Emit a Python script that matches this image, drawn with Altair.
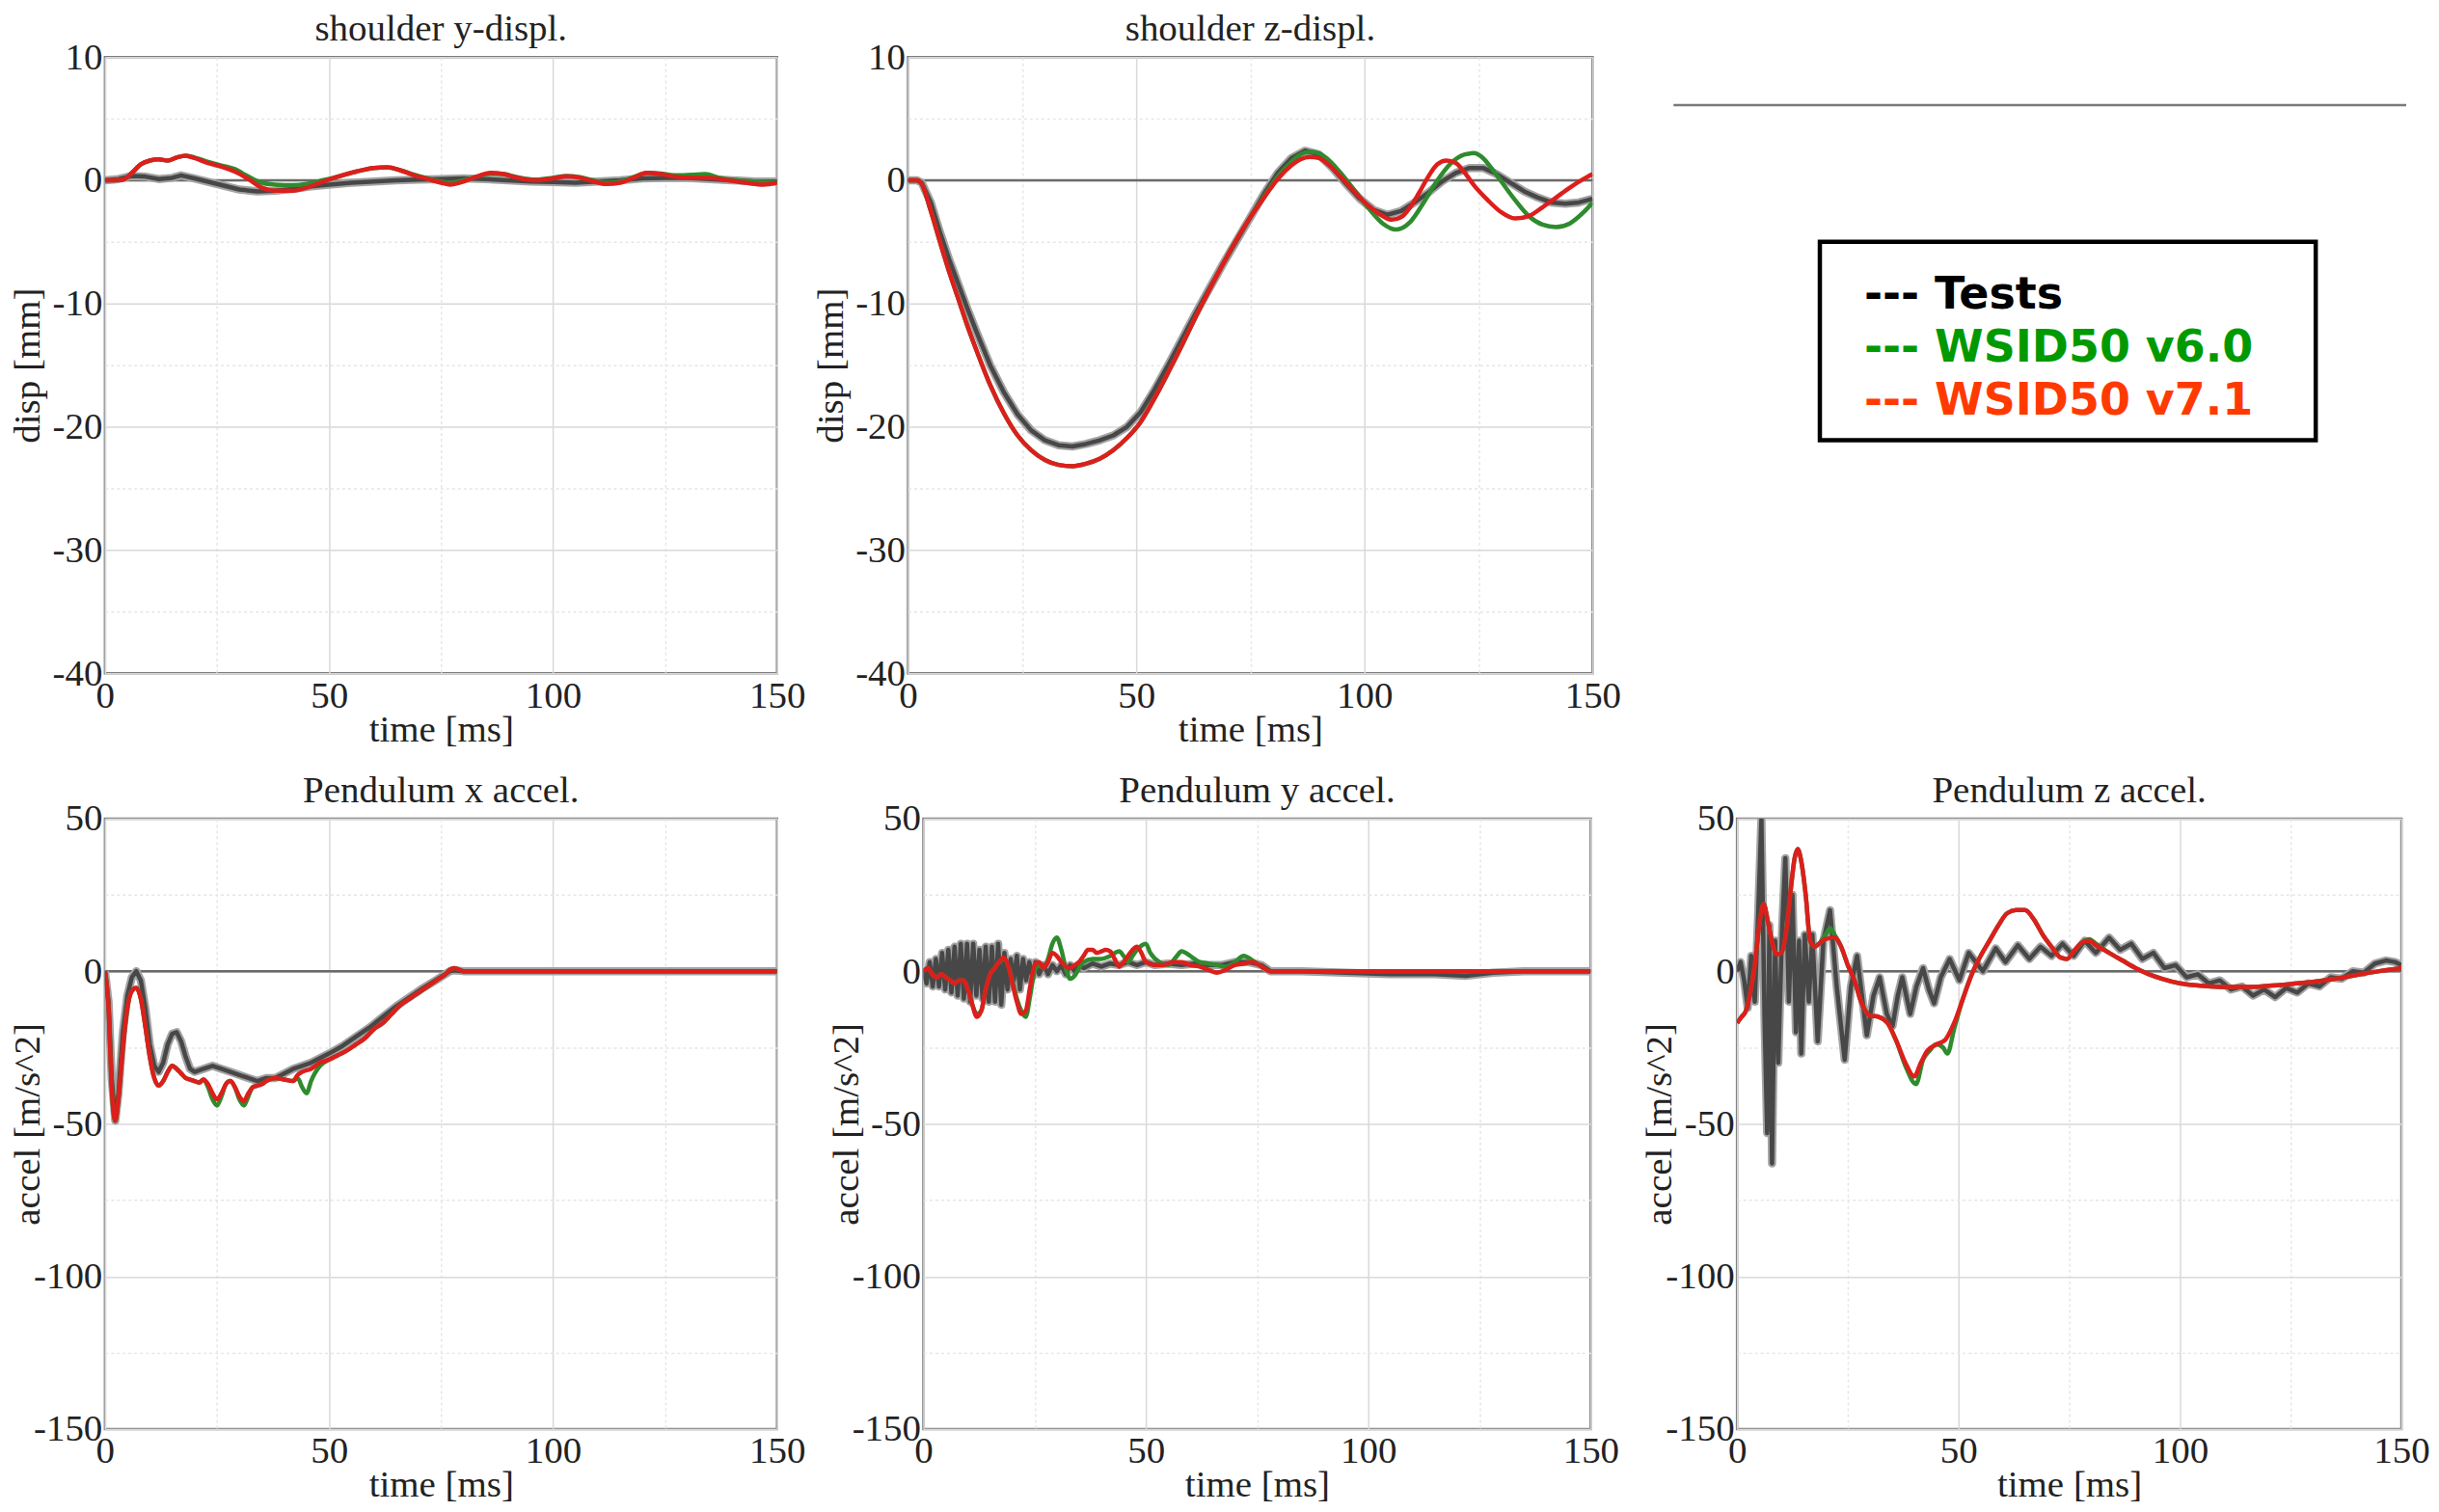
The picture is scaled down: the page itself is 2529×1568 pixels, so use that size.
import altair as alt
import pandas as pd

# ---------------- data ----------------
SERIES = ["Tests", "WSID50 v6.0", "WSID50 v7.1"]
LEGEND_COLORS = ["#000000", "#009a00", "#ff3a00"]

TIME_TICKS = [0, 25, 50, 75, 100, 125, 150]
DISP_TICKS = [-40, -35, -30, -25, -20, -15, -10, -5, 0, 5, 10]
ACCEL_TICKS = [-150, -125, -100, -75, -50, -25, 0, 25, 50]

# shoulder y-displ. [mm]
YD_TEST = [(0, 0), (3, 0.1), (6, 0.35), (9, 0.3), (12, 0.1), (15, 0.2), (17, 0.4), (20, 0.15),
           (25, -0.3), (30, -0.75), (34, -0.9), (38, -0.85), (42, -0.7), (46, -0.5), (50, -0.35),
           (55, -0.2), (60, -0.1), (65, 0.0), (70, 0.05), (75, 0.1), (80, 0.15), (85, 0.1),
           (90, 0.0), (95, -0.1), (100, -0.15), (105, -0.2), (110, -0.1), (115, 0.0), (120, 0.15),
           (125, 0.2), (130, 0.2), (135, 0.1), (140, 0.0), (145, -0.1), (150, -0.1)]
YD_V60 = [(0, 0), (2, 0), (4, 0.05), (6, 0.6), (8, 1.3), (10, 1.6), (12, 1.7), (14, 1.6), (16, 1.85),
          (18, 2.0), (20, 1.85), (23, 1.5), (26, 1.2), (29, 0.9), (32, 0.3), (35, -0.2), (38, -0.35),
          (42, -0.4), (45, -0.3), (48, -0.05), (52, 0.3), (56, 0.7), (60, 1.0), (63, 1.05), (66, 0.8),
          (69, 0.45), (72, 0.15), (75, -0.1), (77, -0.2), (80, 0.0), (83, 0.3), (86, 0.55), (89, 0.5),
          (92, 0.25), (96, 0.05), (100, 0.2), (103, 0.35), (106, 0.25), (109, 0.0), (112, -0.2),
          (115, -0.1), (118, 0.25), (121, 0.6), (124, 0.55), (127, 0.4), (131, 0.45), (134, 0.5),
          (137, 0.2), (141, 0.0), (145, -0.1), (150, -0.15)]
YD_V71 = [(0, 0), (2, 0), (4, 0.05), (6, 0.6), (8, 1.3), (10, 1.6), (12, 1.7), (14, 1.6), (16, 1.85),
          (18, 2.0), (20, 1.8), (23, 1.4), (26, 1.1), (29, 0.7), (32, 0.1), (35, -0.6), (38, -0.85),
          (42, -0.85), (45, -0.6), (48, -0.2), (52, 0.3), (56, 0.7), (60, 1.0), (63, 1.05), (66, 0.8),
          (69, 0.4), (72, 0.1), (75, -0.2), (77, -0.35), (80, -0.1), (83, 0.3), (86, 0.6), (89, 0.5),
          (92, 0.2), (96, 0.0), (100, 0.15), (103, 0.3), (106, 0.2), (109, -0.1), (112, -0.3),
          (115, -0.2), (118, 0.2), (121, 0.6), (124, 0.5), (127, 0.3), (131, 0.2), (135, 0.2),
          (139, 0.0), (143, -0.2), (147, -0.35), (150, -0.2)]

# shoulder z-displ. [mm]
ZD_TEST = [(0, 0), (2, 0), (3, -0.2), (5, -1.8), (7, -4.2), (9, -6.4), (11, -8.4), (13, -10.4),
           (15, -12.3), (18, -15.0), (21, -17.2), (24, -19.0), (27, -20.3), (30, -21.1), (33, -21.5),
           (36, -21.6), (39, -21.4), (42, -21.1), (45, -20.7), (48, -20.0), (51, -18.8), (54, -17.0),
           (57, -15.0), (60, -12.9), (63, -10.8), (66, -8.8), (69, -6.8), (72, -4.9), (75, -3.0),
           (78, -1.1), (81, 0.6), (84, 1.8), (87, 2.4), (90, 2.1), (93, 1.0), (96, -0.3), (99, -1.5),
           (102, -2.4), (105, -2.8), (108, -2.5), (111, -1.8), (114, -1.0), (117, -0.1), (120, 0.6),
           (123, 1.0), (126, 1.0), (129, 0.5), (132, -0.2), (135, -0.9), (138, -1.4), (141, -1.8),
           (144, -1.9), (147, -1.8), (150, -1.5)]
ZD_V60 = [(0, 0), (2, 0), (3, -0.3), (5, -2.5), (7, -5.0), (9, -7.4), (11, -9.6), (13, -11.8),
          (15, -13.8), (18, -16.6), (21, -18.9), (24, -20.7), (27, -21.9), (30, -22.7), (33, -23.1),
          (36, -23.2), (39, -23.0), (42, -22.6), (45, -21.9), (48, -20.9), (51, -19.6), (54, -17.7),
          (57, -15.6), (60, -13.4), (63, -11.1), (66, -8.9), (69, -6.8), (72, -4.8), (75, -3.0),
          (78, -1.3), (81, 0.3), (84, 1.5), (86, 2.1), (88, 2.3), (90, 2.2), (92, 1.7), (95, 0.5),
          (98, -0.9), (101, -2.3), (104, -3.5), (107, -4.0), (110, -3.4), (113, -1.8), (116, 0.0),
          (119, 1.4), (122, 2.1), (124, 2.2), (126, 1.8), (128, 0.9), (130, -0.1), (133, -1.6),
          (136, -2.9), (139, -3.6), (142, -3.8), (145, -3.5), (148, -2.6), (150, -1.8)]
ZD_V71 = [(0, 0), (2, 0), (3, -0.3), (5, -2.5), (7, -5.0), (9, -7.4), (11, -9.6), (13, -11.8),
          (15, -13.8), (18, -16.6), (21, -18.9), (24, -20.7), (27, -21.9), (30, -22.7), (33, -23.1),
          (36, -23.2), (39, -23.0), (42, -22.6), (45, -21.9), (48, -20.9), (51, -19.6), (54, -17.7),
          (57, -15.6), (60, -13.4), (63, -11.1), (66, -8.9), (69, -6.8), (72, -4.8), (75, -3.0),
          (78, -1.4), (81, 0.1), (84, 1.2), (86, 1.7), (88, 1.9), (90, 1.8), (92, 1.3), (95, 0.2),
          (98, -1.0), (101, -2.1), (104, -2.9), (106, -3.2), (108, -3.0), (110, -2.2), (112, -1.0),
          (114, 0.3), (116, 1.3), (118, 1.6), (120, 1.4), (122, 0.6), (124, -0.4), (127, -1.6),
          (130, -2.6), (133, -3.1), (136, -2.9), (139, -2.2), (142, -1.4), (145, -0.6), (148, 0.1),
          (150, 0.5)]

# Pendulum x accel. [m/s^2]
XA_TEST = [(0, 0), (0.8, -10), (1.5, -35), (2.3, -49), (3, -40), (4, -20), (5, -8), (6, -2), (7, 0),
           (8, -3), (9, -12), (10, -24), (11, -31), (12, -33), (13, -30), (14, -24), (15, -20.5),
           (16, -20), (17, -23), (18, -28), (19, -32), (20, -33), (22, -32), (24, -31), (26, -32),
           (28, -33), (30, -34), (32, -35), (34, -36), (36, -35), (38, -35), (40, -33.5), (42, -32),
           (44, -31), (46, -30), (48, -28.5), (50, -27), (53, -24.5), (56, -21.5), (59, -18.5),
           (62, -15), (65, -11.5), (68, -8.5), (71, -5.5), (74, -2.8), (77, 0), (78, 0.3), (80, 0),
           (150, 0)]
XA_V60 = [(0, 0), (0.8, -12), (1.5, -38), (2.3, -49), (3, -42), (4, -25), (5, -12), (6, -6.5),
          (7, -5.5), (8, -9), (9, -18), (10, -28), (11, -35), (12, -37.5), (13, -36), (14, -33),
          (15, -31), (16, -32), (17, -33.5), (18, -35), (19, -35.5), (20, -36), (21, -36.5),
          (22, -35.5), (23, -38), (24, -42), (25, -44), (26, -41), (27, -37), (28, -36), (29, -38),
          (30, -42), (31, -44), (32, -41), (33, -38), (34, -37.5), (35, -37), (36, -36), (38, -35),
          (40, -35.5), (42, -36), (43, -35), (44, -38), (45, -40), (46, -36), (48, -31), (50, -29),
          (52, -27.5), (54, -26), (56, -24), (58, -22), (60, -19), (62, -17), (64, -14), (66, -11),
          (68, -9), (70, -7), (72, -5), (74, -3), (76, -1), (77, 0.5), (78, 1), (80, 0), (150, 0)]
XA_V71 = [(0, 0), (0.8, -12), (1.5, -38), (2.3, -49), (3, -42), (4, -25), (5, -12), (6, -6.5),
          (7, -5.5), (8, -9), (9, -18), (10, -28), (11, -35), (12, -37.5), (13, -36), (14, -33),
          (15, -31), (16, -32), (17, -33.5), (18, -35), (19, -35.5), (20, -36), (21, -36.5),
          (22, -35.5), (23, -37), (24, -40), (25, -42), (26, -40), (27, -37), (28, -36), (29, -38),
          (30, -41), (31, -42.5), (32, -40), (33, -38), (34, -37.5), (35, -37), (36, -36), (38, -35),
          (40, -35.5), (42, -36), (43, -34), (44, -33), (46, -32), (48, -30), (50, -29), (52, -27.5),
          (54, -26), (56, -24), (58, -22), (60, -19), (62, -17), (64, -14), (66, -11), (68, -9),
          (70, -7), (72, -5), (74, -3), (76, -1), (77, 0.5), (78, 1), (80, 0), (150, 0)]

# Pendulum y accel. [m/s^2]
YA_TEST = [(0, 0), (0.7, -4), (1.4, 3), (2.1, -5), (2.8, 4), (3.5, -5), (4.2, 6), (4.9, -6), (5.6, 7),
           (6.3, -7), (7, 8), (7.7, -8), (8.4, 9), (9.1, -9), (9.8, 9), (10.5, -10), (11.2, 9),
           (11.9, -8), (12.6, 7), (13.3, -9), (14, 8), (14.7, -10), (15.4, 8), (16.1, -10),
           (16.8, 9), (17.5, -11), (18.2, 6), (18.9, -6), (19.6, 4), (20.3, -3), (21, 5), (21.7, -6),
           (22.4, 4), (23.1, -3), (23.8, 3), (24.5, -2), (25.2, 3), (26, -1), (27, 2), (28, -1),
           (29, 2), (30, 0), (31, 2), (32, -1), (33, 2), (34, 0), (35, 2), (36, 1), (38, 2.5),
           (40, 1.5), (42, 2.5), (44, 2), (46, 3), (48, 2), (50, 3), (52, 2), (55, 2.5), (58, 2),
           (61, 2.5), (64, 2), (67, 2), (70, 3), (73, 3), (76, 2), (78, 0), (85, 0), (95, -0.5),
           (105, -1), (115, -1), (122, -1.5), (128, -0.5), (135, 0), (150, 0)]
YA_V60 = [(0, 0), (1, 1), (2, -1), (3, -2), (4, -1), (5, -2), (6, -3), (7, -4), (8, -3), (9, -3),
          (10, -6), (11, -11), (12, -14), (13, -13), (14, -6), (15, -1), (16, 1), (17, 3), (18, 4),
          (19, 2), (20, -3), (21, -9), (22, -13), (23, -15), (24, -8), (25, 0), (26, 2), (27, 1),
          (28, 4), (29, 9), (30, 11), (31, 7), (32, 1), (33, -2.5), (34, -1.5), (35, 1), (36, 3),
          (38, 4), (40, 4), (42, 5), (44, 6.5), (45, 5), (46, 3), (47, 5), (48, 7), (50, 9), (51, 6),
          (53, 3), (55, 2), (57, 5), (58, 6.5), (60, 5), (62, 3), (64, 2.5), (66, 2), (68, 1.5),
          (70, 3), (72, 5), (74, 3.5), (76, 1.5), (78, 0), (85, 0), (150, 0)]
YA_V71 = [(0, 0), (1, 1), (2, -1), (3, -2), (4, -1), (5, -2), (6, -3), (7, -4), (8, -3), (9, -3),
          (10, -6), (11, -11), (12, -15), (13, -13), (14, -6), (15, -1), (16, 1), (17, 3), (18, 4.5),
          (19, 2), (20, -4), (21, -10), (22, -14), (23, -13), (24, -5), (25, 2), (26, 3), (27, 1),
          (28, 3), (29, 6), (30, 5), (31, 3), (32, 1.5), (33, 1), (34, 2), (35, 3), (36, 5), (37, 7),
          (38, 7), (39, 6), (40, 6.5), (41, 7), (42, 6.5), (43, 4), (44, 1.5), (45, 3), (46, 5),
          (47, 7), (48, 8), (49, 6), (50, 3), (52, 2), (54, 2), (56, 3), (58, 3), (60, 2), (62, 1.5),
          (64, 0.5), (66, -0.5), (68, 0.5), (70, 2), (72, 2.5), (74, 3), (76, 1.5), (78, 0), (85, 0),
          (150, 0)]

# Pendulum z accel. [m/s^2]
ZA_TEST = [(0, 0), (0.8, 3), (1.6, -3), (2.4, -12), (3.2, 5), (4, -10), (4.8, 20), (5.5, 50),
           (6.2, -15), (6.8, -53), (7.3, 15), (7.9, -63), (8.6, 10), (9.3, -30), (10.2, 15),
           (10.9, 37), (11.7, -10), (12.5, 25), (13.3, -20), (14, 10), (14.5, -27), (15.3, 12),
           (16.2, -10), (17, 12), (18.2, -23), (19.5, 10), (21, 20), (22.5, -5), (24.3, -29),
           (25.7, -5), (27.1, 5), (29.3, -21), (30.8, -8), (32.2, -2), (33.8, -14), (35.1, -18),
           (36.3, -8), (37.3, -2), (39.1, -14), (40.5, -5), (42, 1), (43.3, -6), (44.5, -10.5),
           (46, -2), (48, 4), (50.2, -3), (52.3, 6), (55.5, 0), (58.4, 7.5), (60.6, 3), (63.4, 8.5),
           (66, 4), (68.5, 8), (71, 5), (73.5, 9), (76, 5), (78.5, 10), (81, 6), (84, 11),
           (86.5, 7), (89, 9), (91.5, 4), (94, 6), (96.5, 1), (99, 2), (101.5, -2), (104, -1),
           (106.5, -4), (109, -3), (111.5, -6), (114, -5), (116.5, -8), (119, -6), (121.5, -8.5),
           (124, -5.5), (126.5, -7), (129, -4), (131.5, -5), (134, -2), (136.5, -2.5), (139, 0),
           (141.5, -0.5), (144, 2.5), (146.5, 3.5), (148.5, 3), (150, 2)]
ZA_V60 = [(0, -17), (1, -15), (2, -13), (3, -7), (4, 2), (5, 15), (6, 22), (7, 16), (8, 9),
          (9, 5.5), (10, 6), (11, 12), (12, 25), (13, 37), (13.7, 40), (14.5, 36), (15.5, 25),
          (16.5, 10), (17.5, 8), (18.5, 9), (20, 12), (21, 14), (22, 12), (23.5, 8), (25, 2),
          (26.5, -3), (28, -10), (30, -14.5), (32, -15), (34, -17), (36, -23), (38, -31),
          (40.4, -37), (42, -29), (43.5, -26), (45, -24), (46.5, -25), (47.5, -27), (49, -19),
          (51, -9), (53, -1), (55, 5), (57, 10), (59, 15), (61, 19), (63, 20), (65, 20), (67, 17),
          (69, 12), (71, 8), (73, 4.5), (74.5, 4), (76, 6.5), (78, 9.5), (79.5, 10.5), (81, 9),
          (84, 6), (87, 3.5), (90, 1), (93, -1), (96, -2.5), (100, -4), (105, -4.8), (110, -5.2),
          (115, -5.2), (120, -4.8), (125, -4.2), (130, -3.5), (135, -2.5), (140, -1.2), (145, 0),
          (150, 1)]
ZA_V71 = [(0, -17), (1, -15), (2, -13), (3, -7), (4, 2), (5, 15), (6, 22), (7, 16), (8, 9),
          (9, 5.5), (10, 6), (11, 12), (12, 25), (13, 37), (13.7, 40), (14.5, 36), (15.5, 25),
          (16.5, 10), (17.5, 8), (18.5, 9), (20, 10.5), (22, 11), (23.5, 8), (25, 2), (26.5, -3),
          (28, -10), (30, -14.5), (32, -15), (34, -17), (36, -23), (38, -30), (40, -34.5),
          (41.5, -30), (43, -26), (45, -24), (47, -22.5), (49, -17), (51, -9), (53, -1), (55, 5),
          (57, 10), (59, 15), (61, 19), (63, 20), (65, 20), (67, 17), (69, 12), (71, 8), (73, 4.5),
          (74.5, 4), (76, 6.5), (78, 9.5), (79.5, 10), (81, 8.5), (84, 6), (87, 3.5), (90, 1),
          (93, -1), (96, -2.5), (100, -4), (105, -4.8), (110, -5.2), (115, -5.2), (120, -4.8),
          (125, -4.2), (130, -3.5), (135, -2.5), (140, -1.2), (145, 0), (150, 1)]

# ---------------- styling ----------------
SERIF = "Liberation Serif"
FS = 39
TEXT_COLOR = "#222222"
TEST_HALO = "#a3a3a3"
TEST_CORE = "#474747"
GREEN = "#2e8b2e"
RED = "#dc1f1c"


def grid_dash(major):
    return {"condition": {"test": f"datum.value % {major} !== 0", "value": [3, 3]}, "value": []}


def grid_color(major):
    return {"condition": {"test": f"datum.value % {major} !== 0", "value": "#e6e6e6"}, "value": "#d9d9d9"}


def label_expr(major):
    return f"datum.value % {major} === 0 ? '' + datum.value : ''"


def to_df(pairs):
    return pd.DataFrame(pairs, columns=["t", "v"])


def panel(title, ytitle, ydomain, yticks, ymajor, test, green, red, width, height, ytitle_pad):
    x = alt.X("t:Q", scale=alt.Scale(domain=[0, 150], nice=False, zero=False),
              axis=alt.Axis(values=TIME_TICKS, labelExpr=label_expr(50),
                            title="time [ms]", gridDash=grid_dash(50), gridColor=grid_color(50)))
    y = alt.Y("v:Q", scale=alt.Scale(domain=ydomain, nice=False, zero=False),
              axis=alt.Axis(values=yticks, labelExpr=label_expr(ymajor), titlePadding=ytitle_pad,
                            title=ytitle, gridDash=grid_dash(ymajor), gridColor=grid_color(ymajor)))
    zero = alt.Chart(pd.DataFrame({"v": [0.0]})).mark_rule(
        color="#6a6a6a", strokeWidth=2.5).encode(y=y)
    halo = alt.Chart(to_df(test)).mark_line(
        color=TEST_HALO, strokeWidth=8.5, clip=True, strokeJoin="round").encode(x=x, y=y)
    core = alt.Chart(to_df(test)).mark_line(
        color=TEST_CORE, strokeWidth=4.5, clip=True, strokeJoin="round").encode(x=x, y=y)
    g = alt.Chart(to_df(green)).mark_line(
        color=GREEN, strokeWidth=4.5, interpolate="monotone", clip=True).encode(x=x, y=y)
    r = alt.Chart(to_df(red)).mark_line(
        color=RED, strokeWidth=4.5, interpolate="monotone", clip=True).encode(x=x, y=y)
    return alt.layer(zero, halo, core, g, r).properties(title=title, width=width, height=height)


TOP_H = 640
BOT_H = 634

p1 = panel("shoulder y-displ.", "disp [mm]", [-40, 10], DISP_TICKS, 10,
           YD_TEST, YD_V60, YD_V71, 698, TOP_H, 5.5)
p2 = panel("shoulder z-displ.", "disp [mm]", [-40, 10], DISP_TICKS, 10,
           ZD_TEST, ZD_V60, ZD_V71, 711, TOP_H, 5.5)
p4 = panel("Pendulum x accel.", "accel [m/s^2]", [-150, 50], ACCEL_TICKS, 50,
           XA_TEST, XA_V60, XA_V71, 698, BOT_H, -14)
p5 = panel("Pendulum y accel.", "accel [m/s^2]", [-150, 50], ACCEL_TICKS, 50,
           YA_TEST, YA_V60, YA_V71, 693, BOT_H, -14)
p6 = panel("Pendulum z accel.", "accel [m/s^2]", [-150, 50], ACCEL_TICKS, 50,
           ZA_TEST, ZA_V60, ZA_V71, 690, BOT_H, -14)

# legend panel
one = pd.DataFrame({"k": [0]})
leg_df = pd.DataFrame({"s": SERIES, "label": ["--- " + s for s in SERIES]})
leg_rule = alt.Chart(one).mark_rule(color="#7a7a7a", strokeWidth=2.5).encode(
    x=alt.value(-52), x2=alt.value(709), y=alt.value(50))
leg_box = alt.Chart(one).mark_rect(fillOpacity=0, stroke="#000000", strokeWidth=4.5).encode(
    x=alt.value(100), x2=alt.value(615), y=alt.value(192), y2=alt.value(398))
leg_text = alt.Chart(leg_df).mark_text(
    font="DejaVu Sans", fontWeight="bold", fontSize=46, align="left", baseline="alphabetic").encode(
    x=alt.value(146),
    y=alt.Y("s:N", scale=alt.Scale(type="point", domain=SERIES, range=[261, 371], padding=0), axis=None),
    text="label:N",
    color=alt.Color("s:N", scale=alt.Scale(domain=SERIES, range=LEGEND_COLORS), legend=None),
)
legend_panel = alt.layer(leg_rule, leg_box, leg_text).properties(
    width=709, height=TOP_H, view=alt.ViewBackground(stroke="transparent"))

top = alt.hconcat(p1, p2, legend_panel, spacing=136, bounds="flush")
bottom = alt.hconcat(p4, p5, p6, spacing=152, bounds="flush")

chart = alt.concat(top, bottom, columns=1, align="none", spacing=21).properties(
    padding={"left": 0, "top": 0, "right": 0, "bottom": 0}
).configure_axis(
    labelFont=SERIF, labelFontSize=FS, labelColor=TEXT_COLOR,
    titleFont=SERIF, titleFontSize=FS, titleFontWeight="normal", titleColor=TEXT_COLOR,
    domain=False, ticks=False, gridWidth=1.5, labelOverlap=False,
).configure_axisX(
    labelFlush=False, labelPadding=4, titlePadding=-4,
).configure_axisY(
    labelPadding=3,
).configure_title(
    font=SERIF, fontSize=FS, fontWeight="normal", color=TEXT_COLOR, offset=-10, frame="group",
).configure_view(
    stroke="#7c7c7c", strokeWidth=2.5,
)

chart.save("out.html", embed_options={"renderer": "svg", "actions": False})
